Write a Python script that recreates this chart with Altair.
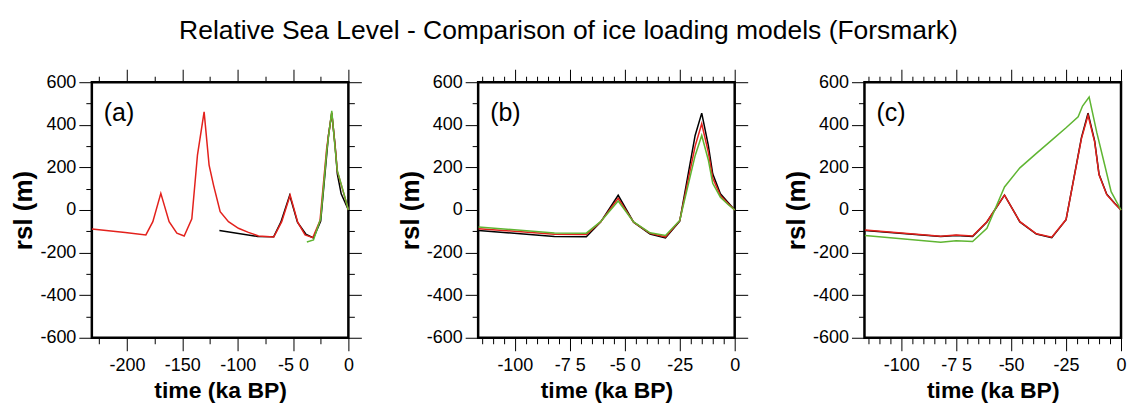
import altair as alt
import pandas as pd

FONT = "Liberation Sans"
BLACK = "#000000"
RED = "#e3211c"
GREEN = "#5fb532"

# ---------------- data (ka BP, rsl in m) ----------------
# panel (a)
a_red_t = [-231.6, -201.6, -182.9, -176.6, -169.4, -161.9, -154.9, -148.3, -141.4, -136.3,
           -130.3, -125.8, -121.8, -115.8, -108.3, -99.3, -90.3, -81.2, -67.4, -60.2,
           -52.6, -45.7, -39.1, -32.2, -25.6, -19.6, -15.0, -12.0, -9.9, -4.5, 0.0]
a_red_v = [-89, -106, -117, -55, 78, -55, -109, -122, -42, 258,
           461, 211, 117, -8, -55, -86, -105, -122, -127, -55,
           70, -58, -117, -130, -50, 289, 458, 300, 180, 84, 0]
a_green_t = [-37.5, -31.5, -25.0, -19.5, -15.0, -12.0, -10.0, -4.5, 0.0]
a_green_v = [-150, -141, -40, 280, 466, 290, 185, 85, 0]

# panels (a) black and (b)
b_t = [-116.5, -82, -67.5, -61, -53, -46, -38.5, -31.5, -25, -18, -15, -12, -10, -6.5, -3, 0]
b_black_v = [-96, -124, -126, -57, 69, -57, -113, -131, -52, 350, 455, 303, 170, 76, 35, 0]
b_red_v = [-88, -114, -115, -56, 55, -57, -110, -126, -50, 300, 405, 272, 150, 68, 30, 0]
b_green_v = [-80, -108, -109, -55, 42, -56, -107, -120, -49, 255, 350, 235, 125, 60, 26, 0]

# panel (c)
c_t = [-116.5, -82, -75, -67.5, -61, -53, -46, -38.5, -31.5, -25, -18, -15, -12, -10, -6.5, -3, 0]
c_black_v = [-96, -125, -120, -124, -56, 70, -56, -113, -130, -46, 340, 455, 325, 168, 74, 33, 0]
c_red_v = [-94, -123, -118, -122, -55, 70, -55, -112, -128, -45, 335, 445, 320, 165, 72, 32, 0]
c_green_t = [-116.5, -82, -75, -67.5, -61, -53, -46, -38.5, -31.5, -25, -19.5, -17.5, -14.5,
             -11, -7.5, -4.5, 0]
c_green_v = [-120, -152, -145, -148, -86, 108, 198, 266, 328, 386, 438, 488, 530,
             363, 215, 86, 0]

# axis ticks / labels
a_x_major = [-200, -150, -100, -50, 0]
a_x_labels = ["-200", "-150", "-100", "-5 0", "0"]
a_x_minor = [-225, -175, -125, -75, -25]
b_x_major = [-100, -75, -50, -25, 0]
b_x_labels = ["-100", "-7 5", "-5 0", "-25", "0"]
c_x_major = [-100, -75, -50, -25, 0]
c_x_labels = ["-100", "-7 5", "-50", "-25", "0"]
bc_x_minor = [-115, -110, -105, -95, -90, -85, -80, -70, -65, -60, -55,
              -45, -40, -35, -30, -20, -15, -10, -5]
y_major = [-600, -400, -200, 0, 200, 400, 600]
y_labels = ["-600", "-400", "-200", "0", "200", "400", "600"]
y_minor = [-500, -300, -100, 100, 300, 500]

TITLE = "Relative Sea Level - Comparison of ice loading models (Forsmark)"
PANEL_W = 257
PANEL_H = 256
MAJOR_TICK = 13
MINOR_TICK = 6


def label_expr(values, labels):
    expr = "''"
    for v, l in reversed(list(zip(values, labels))):
        expr = f"datum.value == {v} ? '{l}' : ({expr})"
    return expr


def tick_axis(orient, values, size):
    return alt.Axis(orient=orient, values=values, domain=False, grid=False, ticks=True,
                    tickColor=BLACK, tickWidth=1, tickSize=size, labels=False, title=None)


def label_axis(orient, values, labels, title, title_size, title_pad, label_pad):
    return alt.Axis(
        orient=orient, values=values, domain=False, grid=False, ticks=True,
        tickColor=BLACK, tickWidth=1, tickSize=MAJOR_TICK,
        labels=True, labelExpr=label_expr(values, labels), labelFont=FONT,
        labelFontSize=18, labelColor=BLACK, labelPadding=label_pad,
        labelFlush=False, labelOverlap=False,
        title=title, titleFont=FONT, titleFontSize=title_size, titleFontWeight="bold",
        titleColor=BLACK, titlePadding=title_pad,
    )


def panel(tag, x_lo, x_major, x_labels, x_minor, series, right_ticks=True):
    xs = alt.Scale(domain=[x_lo, 0], nice=False, zero=False)
    ys = alt.Scale(domain=[-600, 600], nice=False, zero=False)
    layers = []
    for i, (t, v, col) in enumerate(series):
        df = pd.DataFrame({"t": t, "rsl": v})
        if i == 0:
            xa = label_axis("bottom", x_major, x_labels, "time (ka BP)", 23, 5, 6)
            ya = label_axis("left", y_major, y_labels, "rsl (m)", 26, 3, 3)
        else:
            xa = None
            ya = None
        layers.append(
            alt.Chart(df).mark_line(color=col, strokeWidth=1.5).encode(
                x=alt.X("t:Q", scale=xs, axis=xa),
                y=alt.Y("rsl:Q", scale=ys, axis=ya),
            )
        )
    t0, v0, _ = series[0]
    gdf = pd.DataFrame({"t": t0, "rsl": v0})
    ghosts = []
    specs = [
        ("bottom", x_minor, MINOR_TICK, "left", y_minor, MINOR_TICK),
        ("top", x_major, MAJOR_TICK, "right", y_major, MAJOR_TICK),
        ("top", x_minor, MINOR_TICK, "right", y_minor, MINOR_TICK),
    ]
    for xo, xvals, xsz, yo, yvals, ysz in specs:
        if yo == "right" and not right_ticks:
            yaxis = None
        else:
            yaxis = tick_axis(yo, yvals, ysz)
        ghosts.append(
            alt.Chart(gdf).mark_line(opacity=0).encode(
                x=alt.X("t:Q", scale=xs, axis=tick_axis(xo, xvals, xsz)),
                y=alt.Y("rsl:Q", scale=ys, axis=yaxis),
            )
        )
    lab = alt.Chart(pd.DataFrame({"lab": [tag]})).mark_text(
        font=FONT, fontSize=25, align="left", baseline="alphabetic", color=BLACK
    ).encode(x=alt.value(12), y=alt.value(39), text="lab:N")
    return (
        alt.layer(*layers, *ghosts, lab)
        .resolve_axis(x="independent", y="independent")
        .properties(width=PANEL_W, height=PANEL_H)
    )


pa = panel("(a)", -231.7, a_x_major, a_x_labels, a_x_minor,
           [(b_t, b_black_v, BLACK), (a_red_t, a_red_v, RED), (a_green_t, a_green_v, GREEN)])
pb = panel("(b)", -116.7, b_x_major, b_x_labels, bc_x_minor,
           [(b_t, b_black_v, BLACK), (b_t, b_red_v, RED), (b_t, b_green_v, GREEN)])
# panel (c)'s right-hand ticks fall outside the picture in the reference
pc = panel("(c)", -116.7, c_x_major, c_x_labels, bc_x_minor,
           [(c_t, c_black_v, BLACK), (c_t, c_red_v, RED), (c_green_t, c_green_v, GREEN)],
           right_ticks=False)

chart = (
    alt.hconcat(pa, pb, pc, spacing=130, bounds="flush")
    .properties(
        title=alt.TitleParams(TITLE, font=FONT, fontSize=26.5, fontWeight="normal", color=BLACK,
                              anchor="middle", offset=23),
        padding={"left": 9, "top": 17, "right": 0, "bottom": 0},
        background="white",
    )
    .configure_view(stroke=BLACK, strokeWidth=2.5)
)

chart.save("out.html", embed_options={"renderer": "svg", "actions": False})
